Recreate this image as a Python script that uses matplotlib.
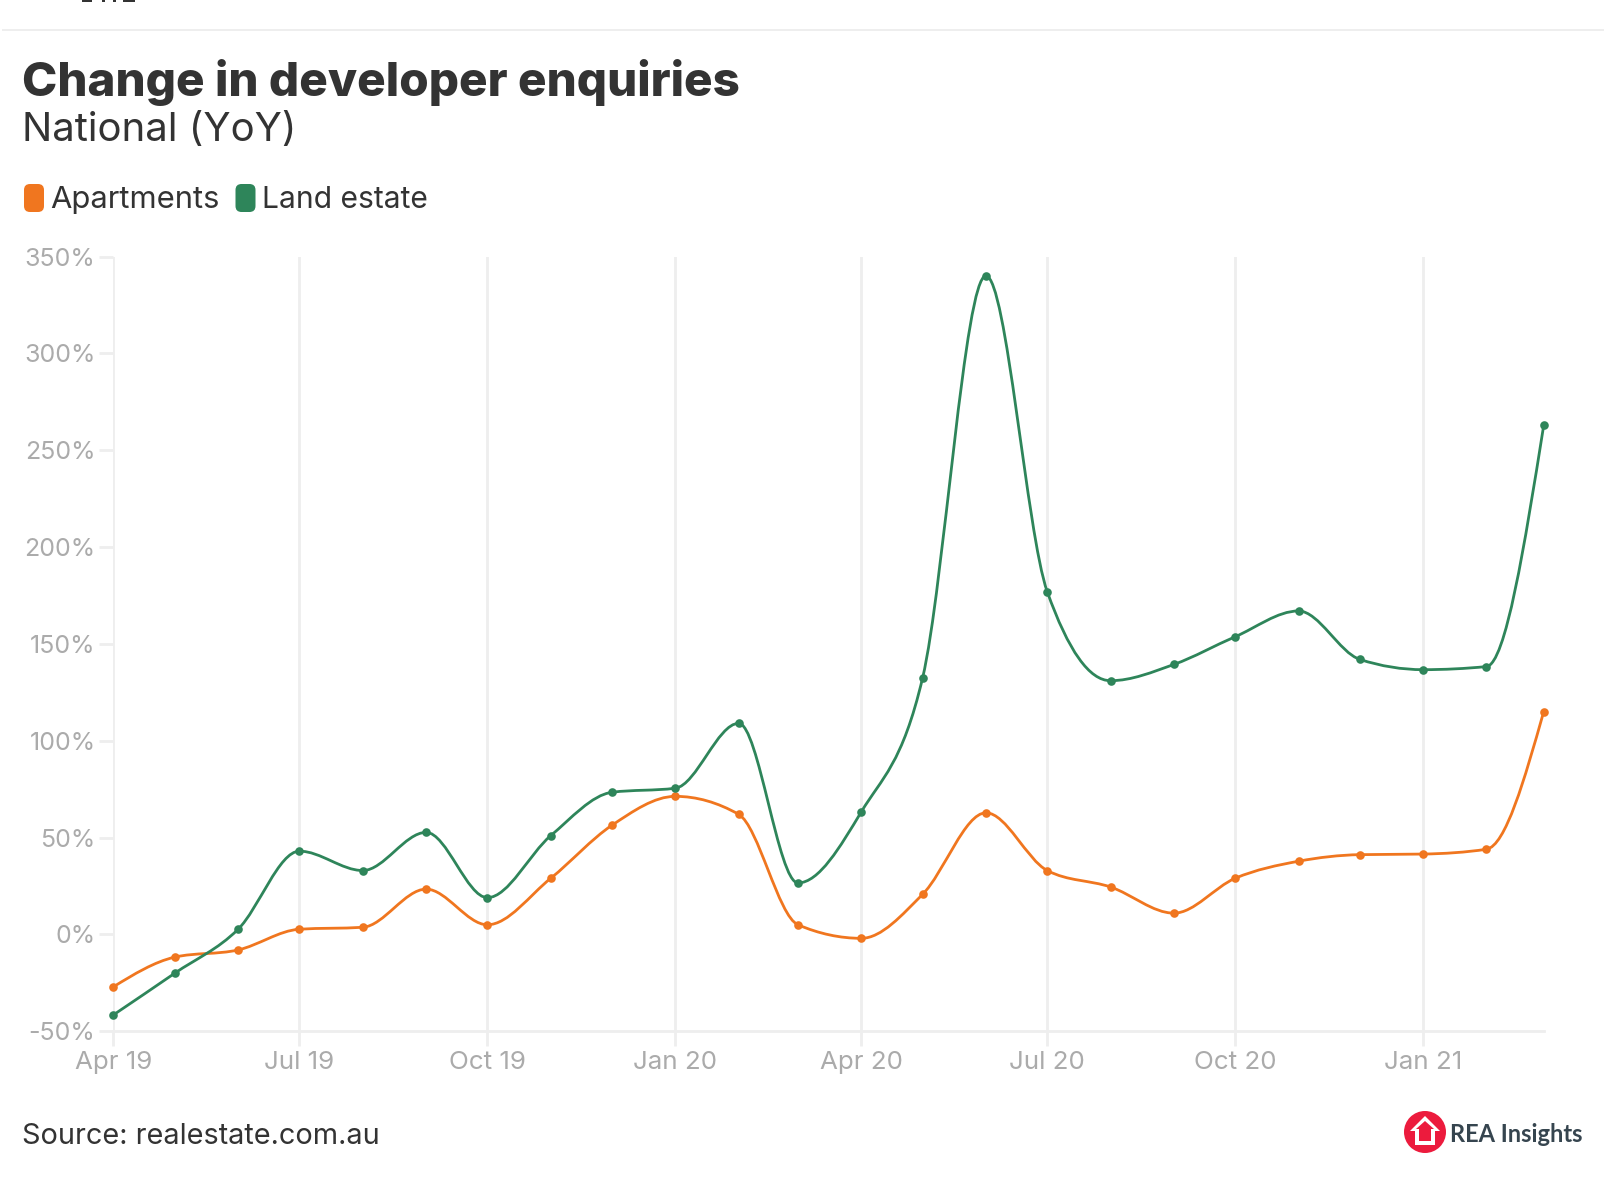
"""
Change in developer enquiries - National (YoY)
"""
import matplotlib
matplotlib.use('Agg')
import matplotlib.dates as mdates
import matplotlib.pyplot as plt
import numpy as np
import pandas as pd
from matplotlib.patches import Circle, FancyBboxPatch, PathPatch, Polygon, Rectangle
from matplotlib.path import Path

plt.rcParams['font.family'] = ['Inter', 'DejaVu Sans']

WIDTH, HEIGHT = 1614, 1182

months = pd.date_range('2019-04-01', periods=24, freq='MS')
apartments = [-27, -11.7, -8, 2.7, 3.7, 23.4, 5, 29, 56.4, 71.3, 62, 5,
              -2, 20.7, 62.8, 33, 24.5, 11, 29, 37.8, 41.2, 41.5, 44, 115]
land_estate = [-41.5, -20, 2.7, 43, 33, 52.7, 19, 51, 73.4, 75.5, 109, 26.6,
               63.3, 132.4, 340, 177, 131, 139.4, 153.7, 167, 142, 136.7, 138.3, 262.8]

y_ticks = [-50, 0, 50, 100, 150, 200, 250, 300, 350]
x_tick_months = pd.date_range('2019-04-01', periods=8, freq='3MS')
x_tick_labels = ['Apr 19', 'Jul 19', 'Oct 19', 'Jan 20', 'Apr 20', 'Jul 20', 'Oct 20', 'Jan 21']

ORANGE = '#F0761F'
GREEN = '#2E855A'
GRID = '#EEEEEE'
TICK_TEXT = '#ABABAB'
DARK = '#333333'
LOGO_RED = '#EC1B3D'
LOGO_TEXT = '#36454F'


def monotone_path(x, y):
    """Monotone cubic through the points, as a bezier path (d3 curveMonotoneX)"""
    x = np.asarray(x, dtype=float)
    y = np.asarray(y, dtype=float)
    h = np.diff(x)
    s = np.diff(y) / h
    t = np.zeros(len(x))
    for i in range(1, len(x) - 1):
        p = (s[i - 1] * h[i] + s[i] * h[i - 1]) / (h[i - 1] + h[i])
        t[i] = (np.sign(s[i - 1]) + np.sign(s[i])) * min(abs(s[i - 1]), abs(s[i]), 0.5 * abs(p))
    t[0] = (3 * s[0] - t[1]) / 2
    t[-1] = (3 * s[-1] - t[-2]) / 2

    verts = [(x[0], y[0])]
    codes = [Path.MOVETO]
    for i in range(len(h)):
        verts += [(x[i] + h[i] / 3, y[i] + t[i] * h[i] / 3),
                  (x[i + 1] - h[i] / 3, y[i + 1] - t[i + 1] * h[i] / 3),
                  (x[i + 1], y[i + 1])]
        codes += [Path.CURVE4] * 3
    return Path(verts, codes)


def draw_series(ax, x, values, color):
    ax.add_patch(PathPatch(monotone_path(x, values), fill=False, edgecolor=color,
                           linewidth=2.0, clip_on=False, zorder=3))
    ax.plot(x, values, linestyle='none', marker='o', markersize=6.2, color=color,
            markeredgewidth=0, clip_on=False, zorder=4)


fig = plt.figure(figsize=(WIDTH / 100, HEIGHT / 100), dpi=100, facecolor='white')

# 整张图的像素坐标层：标题、图例、logo
page = fig.add_axes([0, 0, 1, 1], zorder=0)
page.set_xlim(0, WIDTH)
page.set_ylim(HEIGHT, 0)
page.axis('off')

# 顶部被裁掉的文字残迹 + 分隔线
for left, w in [(82, 10), (102, 3), (113, 3), (123, 12)]:
    page.add_patch(Rectangle((left, 0), w, 1.6, color=DARK, linewidth=0))
page.plot([3, 1603], [30, 30], color=GRID, linewidth=1.4)

page.text(22.5, 78, 'Change in developer enquiries', fontsize=34.3, fontweight=800,
          color=DARK, ha='left', va='center_baseline')
page.text(22, 127, 'National (YoY)', fontsize=28.9, color=DARK, ha='left', va='center_baseline')

for left, right, color in [(24, 44, ORANGE), (235.5, 255.5, GREEN)]:
    page.add_patch(FancyBboxPatch((left + 4, 188), right - left - 8, 20,
                                  boxstyle='round,pad=4,rounding_size=6',
                                  facecolor=color, edgecolor='none'))
page.text(50, 197, 'Apartments', fontsize=22.3, color=DARK, ha='left', va='center_baseline')
page.text(262, 197, 'Land estate', fontsize=21.6, color=DARK, ha='left', va='center_baseline')

page.text(22.5, 1133.5, 'Source: realestate.com.au', fontsize=20.8, color=DARK,
          ha='left', va='center_baseline')

# logo
page.add_patch(Circle((1425, 1132), 21, facecolor=LOGO_RED, edgecolor='none'))
page.add_patch(Polygon([(1425, 1116), (1440, 1131), (1435, 1131), (1435, 1145), (1415, 1145),
                        (1415, 1131), (1410, 1131)], closed=True, facecolor='white', edgecolor='none'))
page.add_patch(Polygon([(1425, 1121), (1434, 1129), (1431, 1129), (1431, 1141), (1419, 1141),
                        (1419, 1129), (1416, 1129)], closed=True, facecolor=LOGO_RED, edgecolor='none'))
page.text(1450.5, 1132, 'REA Insights', fontsize=17, fontweight='bold', color=LOGO_TEXT,
          family=['Lato', 'Open Sans'], ha='left', va='center_baseline')

# 主图
left_px, right_px, top_px, bottom_px = 113.5, 1543.7, 256.5, 1031.3
ax = fig.add_axes([left_px / WIDTH, 1 - bottom_px / HEIGHT,
                   (right_px - left_px) / WIDTH, (bottom_px - top_px) / HEIGHT], zorder=1)
ax.patch.set_alpha(0)

x = mdates.date2num(months)
ax.set_xlim(x[0], x[-1])
ax.set_ylim(-50, 350)

for side in ['top', 'right', 'left']:
    ax.spines[side].set_visible(False)
ax.spines['bottom'].set_color(GRID)
ax.spines['bottom'].set_linewidth(2)

ax.set_xticks(mdates.date2num(x_tick_months))
ax.set_xticklabels(x_tick_labels)
ax.set_yticks(y_ticks)
ax.set_yticklabels([f'{v}%' for v in y_ticks])
ax.tick_params(axis='x', length=10.8, width=2, color=GRID, labelcolor=TICK_TEXT,
               labelsize=18.7, pad=3.5)
ax.tick_params(axis='y', length=10, width=2, color=GRID, labelcolor=TICK_TEXT,
               labelsize=18, pad=3)
ax.grid(True, axis='x', color=GRID, linewidth=2, zorder=0)
ax.set_axisbelow(True)

draw_series(ax, x, apartments, ORANGE)
draw_series(ax, x, land_estate, GREEN)

fig.savefig('out.png', dpi=100)
plt.close(fig)
